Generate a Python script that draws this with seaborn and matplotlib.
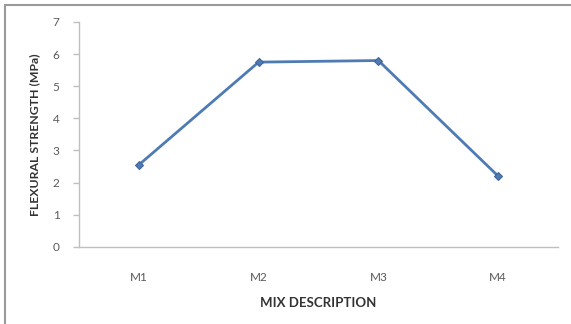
import matplotlib
matplotlib.use("Agg")
import matplotlib.pyplot as plt
import seaborn as sns
import pandas as pd
from matplotlib.lines import Line2D

# Flexural strength per mix
mixes = ["M1", "M2", "M3", "M4"]
strength = [2.55, 5.75, 5.8, 2.2]
y_ticks = [0, 1, 2, 3, 4, 5, 6, 7]

df = pd.DataFrame({"mix": mixes, "strength": strength})

sns.set_theme(style="white")
plt.rcParams["font.family"] = ["Lato", "DejaVu Sans"]

fig = plt.figure(figsize=(5.71, 3.24), dpi=100)
ax = fig.add_axes([79 / 571, 1 - 246.7 / 324, (558 - 79) / 571, (246.7 - 22) / 324])

sns.lineplot(data=df, x="mix", y="strength", ax=ax, color="#4F7BB5",
             linewidth=2, marker="D", markersize=4.5, markeredgecolor="#3E6399",
             markerfacecolor="#4F7BB5", sort=False)

ax.set_xlim(-0.5, len(mixes) - 0.5)
ax.set_ylim(0, 7)
ax.set_yticks(y_ticks)
ax.set_yticklabels([str(t) for t in y_ticks])

for side in ["top", "right"]:
    ax.spines[side].set_visible(False)
for side in ["left", "bottom"]:
    ax.spines[side].set_color("#BFBFBF")
    ax.spines[side].set_linewidth(1.0)

ax.tick_params(axis="y", which="major", length=4, width=1, color="#BFBFBF",
               labelsize=8.5, labelcolor="#595959", pad=10, left=True)
ax.tick_params(axis="x", length=0, labelsize=8.5, labelcolor="#595959", pad=18)

ax.set_xlabel("MIX DESCRIPTION", fontsize=9.5, fontweight="bold", color="#333333", labelpad=10)
ax.set_ylabel("FLEXURAL STRENGTH (MPa)", fontsize=8.8, fontweight="bold", color="#333333", labelpad=9)

# Chart frame: left and top edges
fig.add_artist(Line2D([5 / 571, 5 / 571], [0, 1 - 5 / 324], transform=fig.transFigure,
                      color="#9A9A9A", linewidth=1.5))
fig.add_artist(Line2D([5 / 571, 1], [1 - 5 / 324, 1 - 5 / 324], transform=fig.transFigure,
                      color="#9A9A9A", linewidth=1.5))

fig.savefig("out.png", dpi=100)
